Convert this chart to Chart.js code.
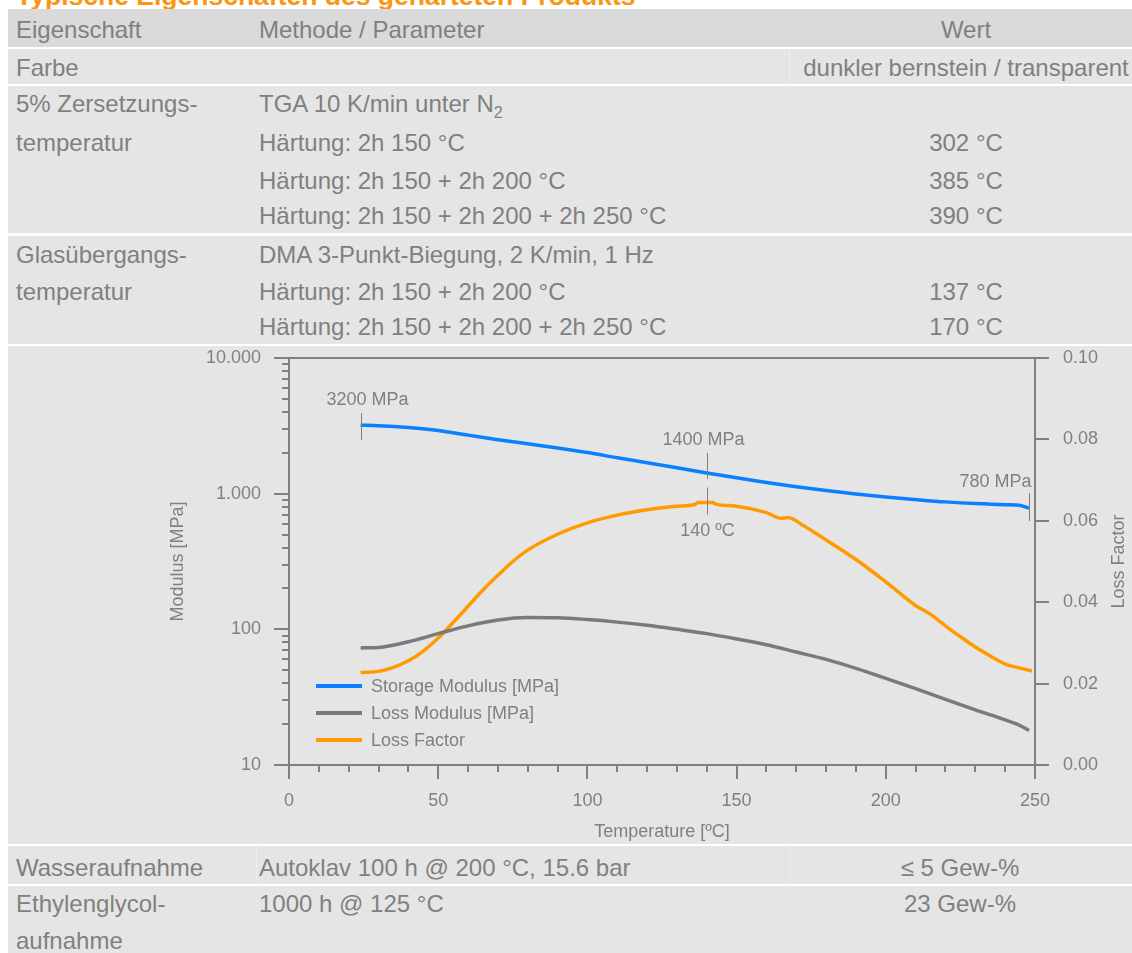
<!DOCTYPE html>
<html lang="de">
<head>
<meta charset="utf-8">
<title>Typische Eigenschaften des gehärteten Produkts</title>
<script src="https://cdn.jsdelivr.net/npm/chart.js@4.4.1/dist/chart.umd.min.js"></script>
<style>
  body { margin: 0; background: #fff; font-family: "Liberation Sans", Arial, sans-serif; color: #808080; }
  .seite { position: relative; width: 1132px; height: 953px; overflow: hidden; }
  .titel { position: absolute; left: 16px; top: -19px; font-size: 26.5px; font-weight: bold; color: #fb9610; line-height: 30px; white-space: nowrap; }
  .zeile { position: absolute; left: 8px; width: 1124px; background: #e5e5e5; }
  .kopf { background: #dadada; }
  .strich { position: absolute; width: 1px; background: #ededed; top: 0; bottom: 0; }
  .t { position: absolute; font-size: 24px; height: 30px; line-height: 30px; white-space: nowrap; }
  .c1 { left: 16px; }
  .c2 { left: 259px; }
  .c3 { left: 789px; width: 354px; text-align: center; }
  .c3b { left: 789px; width: 342px; text-align: center; }
  sub { font-size: 16px; line-height: 0; }
  #grafico { position: absolute; left: 0; top: 346px; }
</style>
</head>
<body>
<div class="seite">
  <div class="titel">Typische Eigenschaften des gehärteten Produkts</div>

  <div class="zeile kopf" style="top:9px;height:38px"></div>
  <div class="zeile" style="top:49px;height:35px"><div class="strich" style="left:781px"></div></div>
  <div class="zeile" style="top:86px;height:147px"></div>
  <div class="zeile" style="top:236px;height:108px"></div>
  <div class="zeile" style="top:346px;height:498px"></div>
  <div class="zeile" style="top:846px;height:38px"><div class="strich" style="left:248px"></div><div class="strich" style="left:782px"></div></div>
  <div class="zeile" style="top:886px;height:70px"></div>

  <div class="t c1" style="top:15px">Eigenschaft</div>
  <div class="t c2" style="top:15px">Methode / Parameter</div>
  <div class="t c3" style="top:15px">Wert</div>

  <div class="t c1" style="top:53px">Farbe</div>
  <div class="t c3" style="top:53px">dunkler bernstein / transparent</div>

  <div class="t c1" style="top:89px">5% Zersetzungs-</div>
  <div class="t c2" style="top:89px">TGA 10 K/min unter N<sub>2</sub></div>
  <div class="t c1" style="top:128px">temperatur</div>
  <div class="t c2" style="top:128px">Härtung: 2h 150 °C</div>
  <div class="t c3" style="top:128px">302 °C</div>
  <div class="t c2" style="top:166px">Härtung: 2h 150 + 2h 200 °C</div>
  <div class="t c3" style="top:166px">385 °C</div>
  <div class="t c2" style="top:201px">Härtung: 2h 150 + 2h 200 + 2h 250 °C</div>
  <div class="t c3" style="top:201px">390 °C</div>

  <div class="t c1" style="top:240px">Glasübergangs-</div>
  <div class="t c2" style="top:240px">DMA 3-Punkt-Biegung, 2 K/min, 1 Hz</div>
  <div class="t c1" style="top:277px">temperatur</div>
  <div class="t c2" style="top:277px">Härtung: 2h 150 + 2h 200 °C</div>
  <div class="t c3" style="top:277px">137 °C</div>
  <div class="t c2" style="top:312px">Härtung: 2h 150 + 2h 200 + 2h 250 °C</div>
  <div class="t c3" style="top:312px">170 °C</div>

  <div class="t c1" style="top:853px">Wasseraufnahme</div>
  <div class="t c2" style="top:853px">Autoklav 100 h @ 200 °C, 15.6 bar</div>
  <div class="t c3b" style="top:853px">≤ 5 Gew-%</div>
  <div class="t c1" style="top:889px">Ethylenglycol-</div>
  <div class="t c2" style="top:889px">1000 h @ 125 °C</div>
  <div class="t c3b" style="top:889px">23 Gew-%</div>
  <div class="t c1" style="top:926px">aufnahme</div>

  <canvas id="grafico" width="1132" height="498"></canvas>
</div>

<script>
const temperatur = [24, 30, 40, 50, 60, 70, 80, 90, 100, 110, 120, 130, 140, 150, 160, 170, 180, 190, 200, 210, 220, 230, 240, 244, 248];
const speichermodul = [3200, 3170, 3070, 2920, 2700, 2500, 2330, 2170, 2010, 1840, 1690, 1550, 1420, 1310, 1210, 1125, 1055, 995, 945, 905, 870, 845, 830, 825, 785];
const verlustmodul = [73, 73.5, 81, 93, 106, 117, 122, 121.5, 118, 113, 107, 100, 93, 85, 77, 68, 60, 51.5, 43.5, 36.5, 30.5, 25.5, 21.5, 20, 18];

const temperaturFaktor = [24, 30, 35, 40, 45, 50, 55, 60, 65, 70, 75, 80, 90, 100, 110, 120, 130, 136, 137, 142, 143, 150, 160, 165, 167, 169, 172, 180, 190, 200, 210, 215, 220, 225, 230, 235, 240, 245, 249];
const verlustfaktor = [0.0227, 0.0230, 0.0240, 0.0256, 0.0280, 0.0312, 0.0350, 0.0390, 0.0430, 0.0466, 0.0500, 0.0528, 0.0567, 0.0595, 0.0614, 0.0627, 0.0636, 0.0640, 0.0645, 0.0645, 0.0641, 0.0636, 0.0620, 0.0606, 0.0608, 0.0604, 0.0590, 0.0553, 0.0505, 0.0450, 0.0392, 0.0370, 0.0342, 0.0315, 0.0290, 0.0268, 0.0248, 0.0238, 0.0231];

const serienNamen = ['Storage Modulus [MPa]', 'Loss Modulus [MPa]', 'Loss Factor'];
const serienFarben = ['#0a80ff', '#7a7a7a', '#ff9a00'];

const xTicks = [0, 50, 100, 150, 200, 250];
const modulTicks = [10, 100, 1000, 10000];
const faktorTicks = [0, 0.02, 0.04, 0.06, 0.08, 0.10];

// Markierungen im Diagramm
const markTemp = [24, 140, 248, 140];
const markWert = [3200, 1400, 785, 0.0645];
const markAchse = ['y', 'y', 'y', 'y2'];
const markText = ['3200 MPa', '1400 MPa', '780 MPa', '140 ºC'];

const grau = '#808080';
const schrift = '"Liberation Sans", Arial, sans-serif';

function punkte(xs, ys) {
    return xs.map((x, i) => ({ x: x, y: ys[i] }));
}

const zusatz = {
    id: 'zusatz',
    afterDraw(chart) {
        const ctx = chart.ctx;
        const a = chart.chartArea;
        const sx = chart.scales.x;
        const sy = chart.scales.y;
        const sy2 = chart.scales.y2;

        ctx.save();
        ctx.strokeStyle = grau;
        ctx.lineWidth = 2;
        ctx.strokeRect(a.left, a.top, a.right - a.left, a.bottom - a.top);

        // Striche linke Achse (log)
        ctx.beginPath();
        for (let d = 10; d <= 10000; d *= 10) {
            for (let k = 1; k < 10; k++) {
                const v = d * k;
                if (v > 10000) break;
                const py = Math.round(sy.getPixelForValue(v));
                const len = k === 1 ? 15 : 7;
                ctx.moveTo(a.left - len, py);
                ctx.lineTo(a.left, py);
            }
        }
        // Striche x-Achse
        for (let t = 0; t <= 250; t += 10) {
            const px = Math.round(sx.getPixelForValue(t));
            const len = t % 50 === 0 ? 14 : 7;
            ctx.moveTo(px, a.bottom);
            ctx.lineTo(px, a.bottom + len);
        }
        // Striche rechte Achse
        faktorTicks.forEach(v => {
            const py = Math.round(sy2.getPixelForValue(v));
            ctx.moveTo(a.right, py);
            ctx.lineTo(a.right + 14, py);
        });
        ctx.stroke();

        // Titel rechte Achse
        ctx.fillStyle = grau;
        ctx.font = '18px ' + schrift;
        ctx.textAlign = 'center';
        ctx.textBaseline = 'middle';
        ctx.save();
        ctx.translate(1119, (a.top + a.bottom) / 2);
        ctx.rotate(-Math.PI / 2);
        ctx.fillText('Loss Factor', 0, 0);
        ctx.restore();

        // Markierungen
        const versatz = [
            { l1: -12, l2: 15, tx: 6, ty: -25, align: 'center' },
            { l1: -21, l2: 5, tx: -4, ty: -34, align: 'center' },
            { l1: -15, l2: 13, tx: 2, ty: -26, align: 'right' },
            { l1: -15, l2: 12, tx: 0, ty: 29, align: 'center' }
        ];
        ctx.lineWidth = 1;
        markTemp.forEach((t, i) => {
            const px = Math.round(sx.getPixelForValue(t)) + 0.5;
            const skala = markAchse[i] === 'y' ? sy : sy2;
            const py = skala.getPixelForValue(markWert[i]);
            const o = versatz[i];
            ctx.beginPath();
            ctx.moveTo(px, py + o.l1);
            ctx.lineTo(px, py + o.l2);
            ctx.stroke();
            ctx.textAlign = o.align;
            ctx.fillText(markText[i], px + o.tx, py + o.ty);
        });

        // Legende
        const ly = [686, 713, 740];
        ctx.textAlign = 'left';
        serienNamen.forEach((name, i) => {
            const y = ly[i] - 346;
            ctx.strokeStyle = serienFarben[i];
            ctx.lineWidth = 4;
            ctx.beginPath();
            ctx.moveTo(316, y);
            ctx.lineTo(362, y);
            ctx.stroke();
            ctx.fillStyle = grau;
            ctx.fillText(name, 371, y + 1);
        });
        ctx.restore();
    }
};

// feste Achsgrößen, damit die Zeichenfläche genau sitzt
function festeBreite(w) {
    return function (scale) {
        scale.width = w;
        scale.paddingTop = 0;
        scale.paddingBottom = 0;
    };
}

function festeHoehe(h) {
    return function (scale) {
        scale.height = h;
        scale.paddingLeft = 0;
        scale.paddingRight = 0;
    };
}

const config = {
    type: 'line',
    data: {
        datasets: [
            { label: serienNamen[0], data: punkte(temperatur, speichermodul), borderColor: serienFarben[0], yAxisID: 'y' },
            { label: serienNamen[1], data: punkte(temperatur, verlustmodul), borderColor: serienFarben[1], yAxisID: 'y' },
            { label: serienNamen[2], data: punkte(temperaturFaktor, verlustfaktor), borderColor: serienFarben[2], yAxisID: 'y2' }
        ]
    },
    options: {
        responsive: false,
        animation: false,
        devicePixelRatio: 1,
        layout: { padding: { top: 12, left: 0, right: 0, bottom: 0 } },
        elements: {
            point: { radius: 0 },
            line: { borderWidth: 3.5, cubicInterpolationMode: 'monotone', fill: false }
        },
        plugins: {
            legend: { display: false },
            tooltip: { enabled: false }
        },
        scales: {
            x: {
                type: 'linear',
                min: 0,
                max: 250,
                afterBuildTicks: s => { s.ticks = xTicks.map(v => ({ value: v })); },
                afterFit: festeHoehe(79),
                grid: { display: false, drawTicks: false },
                border: { display: false },
                ticks: { padding: 25, color: grau, font: { size: 18, family: schrift }, maxRotation: 0 },
                title: { display: true, text: 'Temperature [ºC]', color: grau, font: { size: 18, family: schrift }, padding: { top: 0, bottom: 1 } }
            },
            y: {
                type: 'logarithmic',
                position: 'left',
                min: 10,
                max: 10000,
                afterBuildTicks: s => { s.ticks = modulTicks.map(v => ({ value: v })); },
                afterFit: festeBreite(289),
                grid: { display: false, drawTicks: false },
                border: { display: false },
                ticks: {
                    padding: 28,
                    color: grau,
                    font: { size: 18, family: schrift },
                    callback: v => v.toLocaleString('de-DE')
                },
                title: { display: true, text: 'Modulus [MPa]', color: grau, font: { size: 18, family: schrift }, padding: { top: 167, bottom: 0 } }
            },
            y2: {
                type: 'linear',
                position: 'right',
                min: 0,
                max: 0.1,
                afterBuildTicks: s => { s.ticks = faktorTicks.map(v => ({ value: v })); },
                afterFit: festeBreite(97),
                grid: { display: false, drawTicks: false },
                border: { display: false },
                ticks: {
                    padding: 28,
                    color: grau,
                    font: { size: 18, family: schrift },
                    callback: v => v.toFixed(2)
                }
            }
        }
    },
    plugins: [zusatz]
};

const canvasElement = document.getElementById('grafico');
if (canvasElement) {
    new Chart(canvasElement.getContext('2d'), config);
}
</script>
</body>
</html>
